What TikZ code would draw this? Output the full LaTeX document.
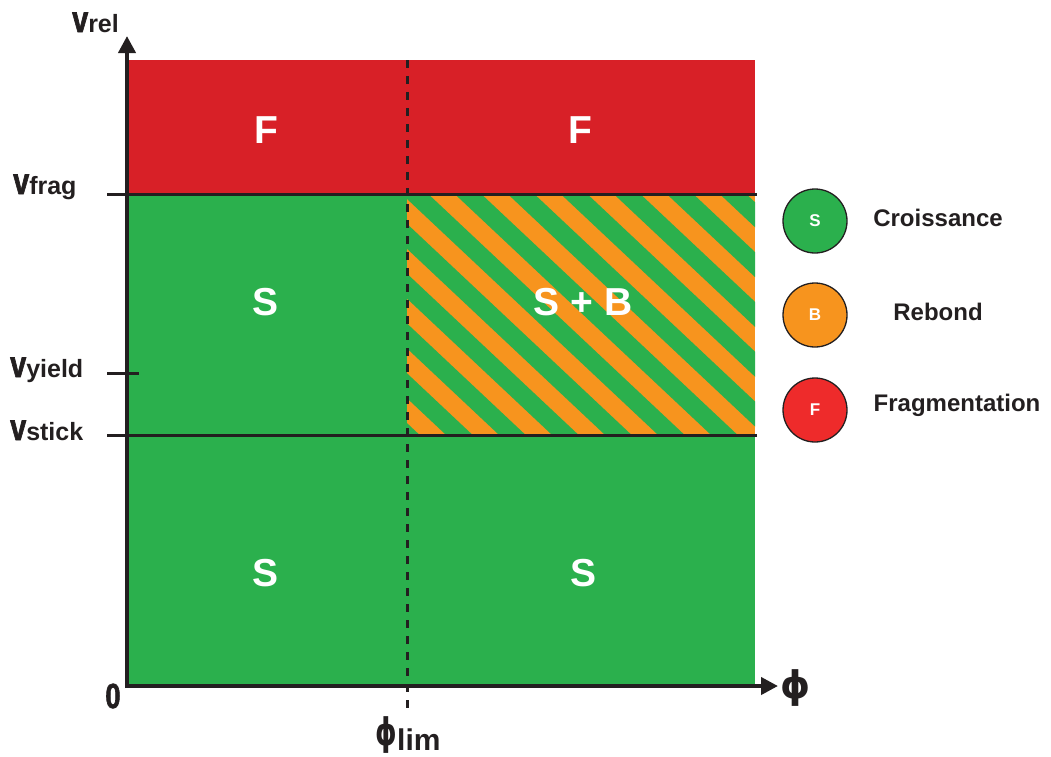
\documentclass[tikz,border=0pt]{standalone}
\usepackage{fontspec}
\setmainfont{Liberation Sans}
\newfontfamily\djv{DejaVu Sans}
\newfontfamily\djvn[FakeStretch=0.72]{DejaVu Sans}
\newfontfamily\lsn[FakeStretch=0.78, BoldFeatures={FakeBold=1.6}]{Liberation Sans}
\usetikzlibrary{arrows.meta}
\definecolor{sgreen}{HTML}{2BB04D}
\definecolor{sorange}{HTML}{F7941E}
\definecolor{sred}{HTML}{D82027}
\definecolor{lred}{HTML}{EE2B2B}
\definecolor{ink}{HTML}{231F20}
\tikzset{
  regiontext/.style={text=white, font=\fontsize{39}{39}\selectfont\bfseries},
  axislabel/.style={anchor=base west, text=ink, inner sep=0pt},
  legendcircle/.style={circle, draw=ink, line width=1.3pt, minimum size=64pt, inner sep=0pt, text=white, font=\fontsize{17}{17}\selectfont\bfseries},
  legendtext/.style={text=ink, font=\fontsize{24}{24}\selectfont\bfseries},
  levelline/.style={draw=ink, line width=3pt},
  axisline/.style={draw=ink, line width=4pt, -{Triangle[width=17pt,length=17pt]}},
}
\newcommand{\bigv}{{\lsn\fontsize{37}{37}\selectfont\bfseries v}}
\newcommand{\subtxt}[1]{{\fontsize{25}{25}\selectfont\bfseries #1}}
\begin{document}
\begin{tikzpicture}[x=1pt,y=-1pt]
\useasboundingbox (0,0) rectangle (1051,756);
% regions
\fill[sred] (128,60) rectangle (755,194);
\fill[sgreen] (128,194) rectangle (755,686);
\begin{scope}
  \clip (407,194) rectangle (755,435);
  \fill[sorange] (407,194) rectangle (755,435);
  \foreach \k in {-10,...,8}{
    \draw[sgreen, line width=18.2pt] ({415+53*\k-300},{194-282}) -- ({415+53*\k+400},{194+376});
  }
\end{scope}
% coordinates
\coordinate (ytop) at (127,36);
\coordinate (xend) at (778,686);
\coordinate (fragL) at (107,194);
\coordinate (fragR) at (757,194);
\coordinate (stickL) at (107,435);
\coordinate (stickR) at (757,435);
\coordinate (yieldL) at (107,373);
\coordinate (yieldR) at (139,373);
\coordinate (limT) at (407,60);
\coordinate (limB) at (407,712);
% lines
\draw[levelline] (fragL) -- (fragR);
\draw[levelline] (stickL) -- (stickR);
\draw[levelline] (yieldL) -- (yieldR);
\draw[draw=ink, line width=3pt, dash pattern=on 8pt off 8pt] (limT) -- (limB);
% axes
\draw[axisline] (125,686) -- (xend);
\draw[axisline] (127,688) -- (ytop);
% region labels
\node[regiontext] (f1) at (266,130) {F};
\node[regiontext] (f2) at (580,130) {F};
\node[regiontext] (s1) at (266,302) {S};
\node[regiontext] (sb) at (583,302) {S + B};
\node[regiontext] (s2) at (266,573) {S};
\node[regiontext] (s3) at (583,573) {S};
% axis labels
\node[axislabel] (vrel) at (72,32) {\bigv\subtxt{rel}};
\node[axislabel] (vfrag) at (13,194) {\bigv\subtxt{frag}};
\node[axislabel] (vyield) at (10,377) {\bigv\subtxt{yield}};
\node[axislabel] (vstick) at (10,440) {\bigv\subtxt{stick}};
\node[text=ink, font=\lsn\fontsize{35}{35}\selectfont\bfseries] (zero) at (113,696) {0};
\node[text=ink, font=\djv\fontsize{38}{38}\selectfont\bfseries] (phi) at (796,688) {ϕ};
\node[text=ink, font=\djvn\fontsize{38}{38}\selectfont\bfseries] (philim) at (386,735) {ϕ};
\node[axislabel, font=\fontsize{30}{30}\selectfont\bfseries] (limsub) at (397,750) {lim};
% legend
\node[legendcircle, fill=sgreen] (ls) at (815,221) {S};
\node[legendcircle, fill=sorange] (lb) at (815,315) {B};
\node[legendcircle, fill=lred] (lf) at (815,410) {F};
\node[legendtext] (tc) at (938,218) {Croissance};
\node[legendtext] (tr) at (938,312) {Rebond};
\node[legendtext] (tf) at (957,405) {Fragmentation};
\end{tikzpicture}
\end{document}
